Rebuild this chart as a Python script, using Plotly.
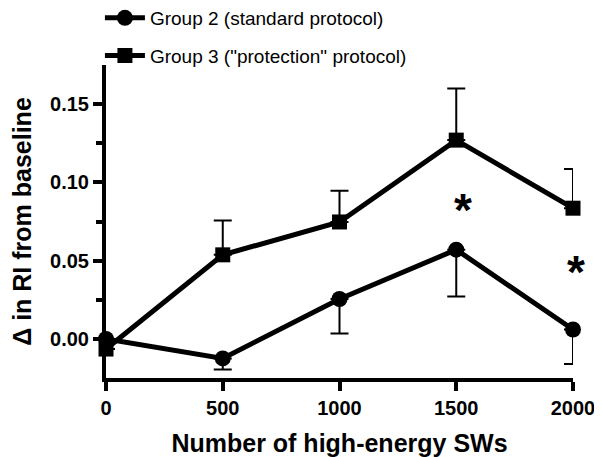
import plotly.graph_objects as go

sw_counts = [0, 500, 1000, 1500, 2000]
group2_mean = [0.000, -0.0125, 0.0255, 0.057, 0.006]
group2_sem_minus = [0.0, 0.007, 0.022, 0.030, 0.022]
group3_mean = [-0.0065, 0.0537, 0.0747, 0.127, 0.0835]
group3_sem_plus = [0.0, 0.022, 0.020, 0.033, 0.025]
group2_name = "Group 2 (standard protocol)"
group3_name = 'Group 3 ("protection" protocol)'
star_x = [1515, 2000]
star_y = [0.087, 0.047]
x_ticks = [0, 500, 1000, 1500, 2000]
y_ticks = [0.00, 0.05, 0.10, 0.15]

fig = go.Figure()
fig.add_trace(go.Scatter(
    x=sw_counts, y=group2_mean, name=group2_name, mode="lines+markers",
    line=dict(color="black", width=5),
    marker=dict(symbol="circle", size=16, color="black"),
    error_y=dict(type="data", symmetric=False, array=[0]*5, arrayminus=group2_sem_minus,
                 color="black", thickness=2, width=9),
    cliponaxis=False, legendgroup="g2",
))
fig.add_trace(go.Scatter(
    x=sw_counts, y=group3_mean, name=group3_name, mode="lines+markers",
    line=dict(color="black", width=5),
    marker=dict(symbol="square", size=15, color="black"),
    error_y=dict(type="data", symmetric=False, array=group3_sem_plus, arrayminus=[0]*5,
                 color="black", thickness=2, width=9),
    cliponaxis=False, legendgroup="g3",
))

for sx, sy in zip(star_x, star_y):
    fig.add_annotation(x=sx, y=sy, text="<b>*</b>", showarrow=False,
                       font=dict(family="Liberation Sans, Arial", size=46, color="black"),
                       xanchor="center", yanchor="middle", xshift=3, yshift=-7)

fig.update_layout(
    width=594, height=449,
    margin=dict(l=98, r=29, t=57, b=79, autoexpand=False),
    paper_bgcolor="white", plot_bgcolor="white",
    font=dict(family="Liberation Sans, Arial", color="black"),
    showlegend=True,
    legend=dict(x=-0.013, y=1.211, xanchor="left", yanchor="top",
                font=dict(family="Liberation Sans, Arial", size=19, color="black"),
                bgcolor="rgba(0,0,0,0)", traceorder="grouped", tracegroupgap=10,
                itemwidth=40),
    xaxis=dict(range=[0, 2000], tickvals=x_ticks, ticktext=[str(v) for v in x_ticks],
               showgrid=False, zeroline=False, showline=True, linecolor="black", linewidth=4,
               ticks="outside", ticklen=9, tickwidth=4, tickcolor="black",
               tickfont=dict(family="Liberation Sans, Arial", size=20, color="black", weight="bold"),
               title=dict(text="<b>Number of high-energy SWs</b>",
                          font=dict(family="Liberation Sans, Arial", size=25, color="black"), standoff=22)),
    yaxis=dict(range=[-0.025, 0.175], tickvals=y_ticks, ticktext=["0.00", "0.05", "0.10", "0.15"],
               showgrid=False, zeroline=False, showline=True, linecolor="black", linewidth=4,
               ticks="outside", ticklen=9, tickwidth=4, tickcolor="black",
               minor=dict(tickvals=[0.025, 0.075, 0.125], ticks="outside", ticklen=6, tickwidth=4, tickcolor="black"),
               tickfont=dict(family="Liberation Sans, Arial", size=20, color="black", weight="bold"),
               title=dict(text="<b>Δ in RI from baseline</b>",
                          font=dict(family="Liberation Sans, Arial", size=25, color="black"), standoff=20)),
)

fig.write_html("out.html")
